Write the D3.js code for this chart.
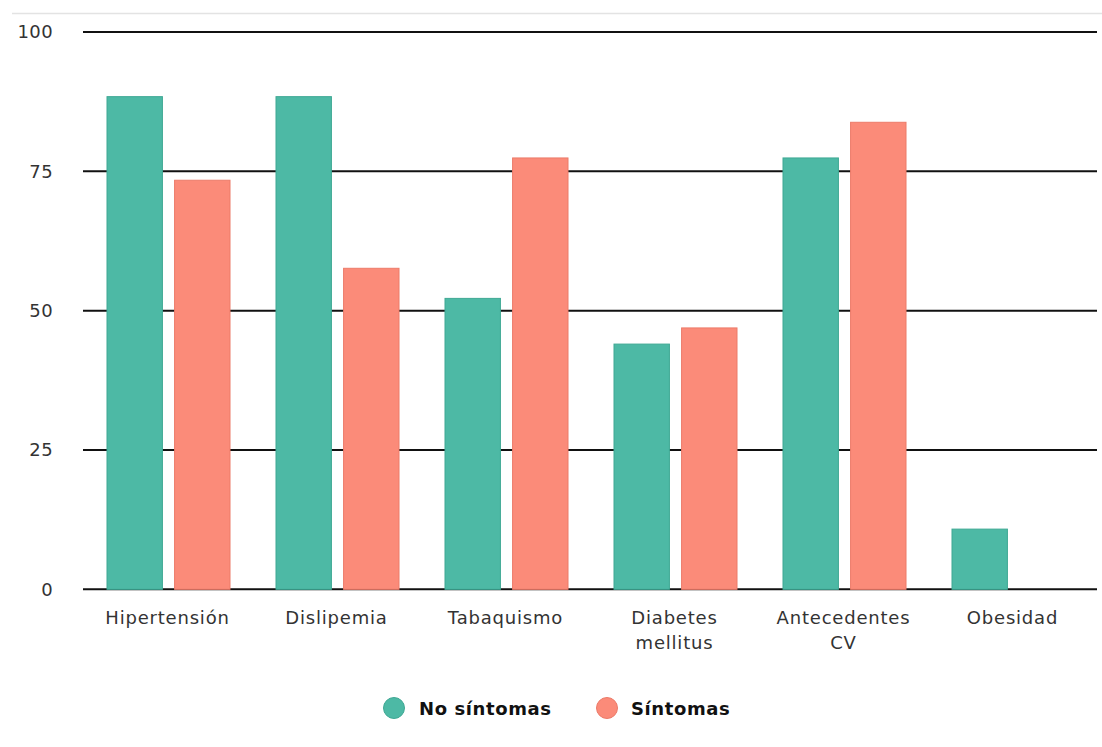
<!DOCTYPE html>
<html>
<head>
<meta charset="utf-8">
<script src="https://cdn.jsdelivr.net/npm/d3@7"></script>
<style>
  html, body { margin: 0; padding: 0; background: #fff; }
  svg { display: block; font-family: "DejaVu Sans", Verdana, sans-serif; }
</style>
</head>
<body>
<svg id="chart" width="1102" height="747"></svg>
<script>
// Factores de riesgo (%) según presencia de síntomas
const categories = [["Hipertensión"], ["Dislipemia"], ["Tabaquismo"], ["Diabetes", "mellitus"], ["Antecedentes", "CV"], ["Obesidad"]];
const seriesNames = ["No síntomas", "Síntomas"];
const noSintomas = [88.4, 88.4, 52.2, 44.0, 77.4, 10.8];
const sintomas = [73.4, 57.6, 77.4, 46.9, 83.8, 0];
const yTicks = [0, 25, 50, 75, 100];
const colors = ["#4db9a5", "#fb8b79"];
const strokes = ["#3fa894", "#ec7b69"];

const svg = d3.select("#chart");
const margin = { left: 83, right: 5, top: 32, bottom: 158 };
const W = 1102, H = 747;
const plotBottom = H - margin.bottom + 0.3;

const y = d3.scaleLinear().domain([0, 100]).range([plotBottom, margin.top]);
const x0 = d3.scaleBand().domain(d3.range(categories.length)).range([margin.left, W - margin.right]).padding(0);
const bw = x0.bandwidth();
const x1 = d3.scaleBand().domain([0, 1]).range([24, bw - 22]).paddingInner(0.18);

// top separator
svg.append("line").attr("x1", 12).attr("x2", W).attr("y1", 13.5).attr("y2", 13.5)
  .attr("stroke", "#e3e3e3").attr("stroke-width", 1.5);

// gridlines
const grid = svg.append("g");
grid.selectAll("line").data(yTicks).join("line")
  .attr("x1", margin.left).attr("x2", W - margin.right)
  .attr("y1", d => y(d)).attr("y2", d => y(d))
  .attr("stroke", "#111").attr("stroke-width", 2);

// y axis labels
const yAxis = svg.append("g").attr("transform", `translate(${53},0)`)
  .call(d3.axisLeft(y).tickValues(yTicks).tickSize(0).tickPadding(0));
yAxis.select(".domain").remove();
yAxis.selectAll("text").attr("font-size", 18).attr("fill", "#333")
  .attr("letter-spacing", 0.4)
  .attr("font-family", "DejaVu Sans, sans-serif");

// bars
const series = [noSintomas, sintomas];
const groups = svg.append("g").selectAll("g").data(categories).join("g")
  .attr("transform", (d, i) => `translate(${x0(i)},0)`);
groups.selectAll("rect")
  .data((d, i) => series.map((s, k) => ({ k, v: s[i] })).filter(e => e.v > 0))
  .join("rect")
  .attr("x", e => x1(e.k))
  .attr("width", x1.bandwidth())
  .attr("y", e => y(e.v))
  .attr("height", e => y(0) - y(e.v))
  .attr("fill", e => colors[e.k])
  .attr("stroke", e => strokes[e.k])
  .attr("stroke-width", 1);

// x labels
const xl = svg.append("g");
categories.forEach((lines, i) => {
  const cx = x0(i) + bw / 2;
  const t = xl.append("text")
    .attr("x", cx)
    .attr("y", 624)
    .attr("text-anchor", "middle")
    .attr("font-size", 18)
    .attr("letter-spacing", 0.8)
    .attr("fill", "#333");
  lines.forEach((ln, j) => {
    t.append("tspan").attr("x", cx).attr("dy", j === 0 ? 0 : 25).text(ln);
  });
});

// legend
const legend = svg.append("g");
const legendItems = [{ cx: 394, tx: 419 }, { cx: 607, tx: 631 }];
seriesNames.forEach((name, k) => {
  legend.append("circle").attr("cx", legendItems[k].cx).attr("cy", 708).attr("r", 10.5)
    .attr("fill", colors[k]).attr("stroke", strokes[k]).attr("stroke-width", 1);
  legend.append("text").attr("x", legendItems[k].tx).attr("y", 708)
    .attr("dominant-baseline", "central")
    .attr("font-size", 18).attr("font-weight", "bold").attr("fill", "#111")
    .attr("letter-spacing", 0.6)
    .text(name);
});
</script>
</body>
</html>
